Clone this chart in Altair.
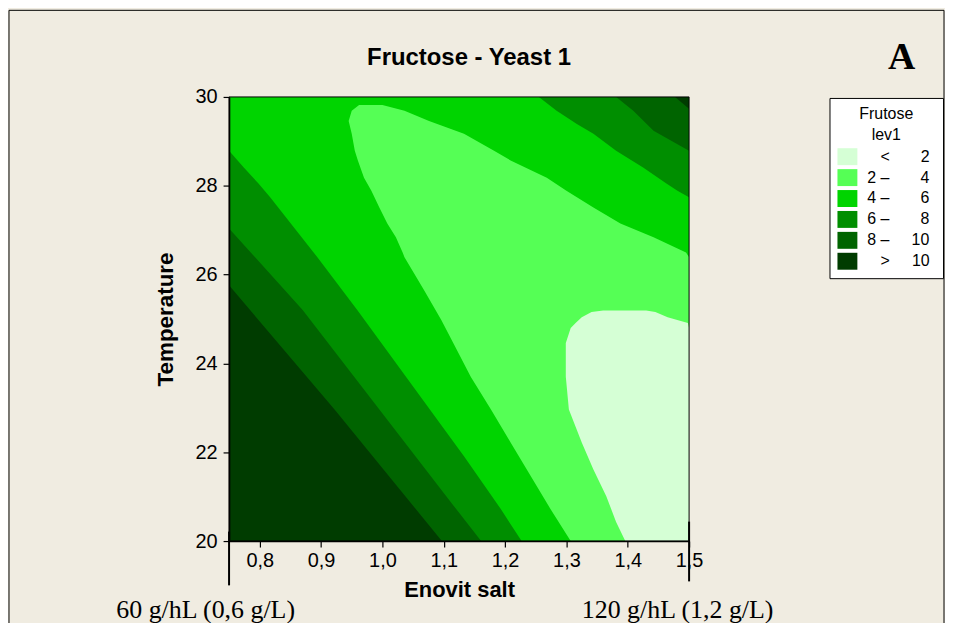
import altair as alt
import pandas as pd

NB = "\u00a0"
ZW = "\u200b"

# ---- legend levels (display labels) and colours ----
LEVEL_LABELS = [
    ZW + NB * 3 + "<" + NB * 7 + "2" + NB + ZW,
    ZW + "2" + NB + "\u2013" + NB * 7 + "4" + NB + ZW,
    ZW + "4" + NB + "\u2013" + NB * 7 + "6" + NB + ZW,
    ZW + "6" + NB + "\u2013" + NB * 7 + "8" + NB + ZW,
    ZW + "8" + NB + "\u2013" + NB * 5 + "10" + NB + ZW,
    ZW + NB * 3 + ">" + NB * 5 + "10" + NB + ZW,
]
LEVEL_COLORS = ["#d5ffd5", "#55ff55", "#00d400", "#008e00", "#006400", "#003c00"]

X_TICKS = [0.8, 0.9, 1.0, 1.1, 1.2, 1.3, 1.4, 1.5]
Y_TICKS = [20, 22, 24, 26, 28, 30]

# ---- sub-level regions: rows of (Temperature, left salt, right salt) ----
# > 10 : whole design space
R10_Y = [20.0, 30.0]
R10_XL = [0.75, 0.75]
R10_XR = [1.5, 1.5]

# fructose < 10
S10_Y = [20.0, 22.96, 25.76, 29.73, 30.0]
S10_XL = [1.097, 0.922, 0.75, 0.75, 0.75]
S10_XR = [1.5, 1.5, 1.5, 1.5, 1.477]

# fructose < 8
S8_Y = [20.0, 20.78, 25.20, 27.04, 28.79, 29.24, 29.69, 30.0]
S8_XL = [1.161, 1.117, 0.870, 0.75, 0.75, 0.75, 0.75, 0.75]
S8_XR = [1.5, 1.5, 1.5, 1.5, 1.5, 1.442, 1.409, 1.381]

# fructose < 6
S6_Y = [20.0, 20.72, 21.91, 25.20, 26.39, 27.74, 27.89, 28.05, 28.41, 28.79, 29.17, 29.39, 29.69, 30.0]
S6_XL = [1.227, 1.193, 1.133, 0.959, 0.894, 0.817, 0.808, 0.798, 0.774, 0.75, 0.75, 0.75, 0.75, 0.75]
S6_XR = [1.5, 1.5, 1.5, 1.5, 1.5, 1.5, 1.481, 1.463, 1.425, 1.381, 1.344, 1.317, 1.284, 1.255]

# fructose < 4
S4_Y = [20.0, 20.72, 21.46, 22.22, 22.96, 23.70, 24.42, 24.98, 25.65, 26.39, 26.50,
        26.84, 27.15, 27.51, 27.89, 28.18, 28.57, 28.79, 29.17, 29.46, 29.69, 29.82]
S4_XL = [1.307, 1.274, 1.242, 1.209, 1.177, 1.144, 1.117, 1.096, 1.068, 1.036, 1.033,
         1.022, 1.008, 0.995, 0.982, 0.970, 0.960, 0.955, 0.950, 0.945, 0.950, 0.962]
S4_XR = [1.5, 1.5, 1.5, 1.5, 1.5, 1.5, 1.5, 1.5, 1.5, 1.5, 1.495,
         1.442, 1.388, 1.344, 1.300, 1.268, 1.209, 1.182, 1.133, 1.076, 1.036, 1.0]

# fructose < 2
S2_Y = [20.0, 20.43, 21.01, 21.61, 22.22, 22.96, 23.70, 24.46, 24.80, 24.91, 25.04, 25.16, 25.19]
S2_XL = [1.396, 1.381, 1.365, 1.344, 1.325, 1.304, 1.299, 1.299, 1.307, 1.315, 1.325, 1.341, 1.36]
S2_XR = [1.5, 1.5, 1.5, 1.5, 1.5, 1.5, 1.5, 1.5, 1.5, 1.498, 1.465, 1.445, 1.43]

REGIONS = [
    (R10_Y, R10_XL, R10_XR, LEVEL_LABELS[5]),
    (S10_Y, S10_XL, S10_XR, LEVEL_LABELS[4]),
    (S8_Y, S8_XL, S8_XR, LEVEL_LABELS[3]),
    (S6_Y, S6_XL, S6_XR, LEVEL_LABELS[2]),
    (S4_Y, S4_XL, S4_XR, LEVEL_LABELS[1]),
    (S2_Y, S2_XL, S2_XR, LEVEL_LABELS[0]),
]

BEIGE = "#f0ece1"
SANS = "Liberation Sans"
SERIF = "Liberation Serif"

XS = alt.Scale(domain=[0.75, 1.5], nice=False, zero=False)
YS = alt.Scale(domain=[20, 30], nice=False, zero=False)

XAXIS = alt.Axis(
    title="Enovit salt", values=X_TICKS,
    labelExpr="replace(format(datum.value, '.1f'), '.', ',')",
    grid=False, domainColor="black", domainWidth=1.5, tickColor="black",
    tickSize=6, tickWidth=1.2, labelFont=SANS, labelFontSize=20, labelColor="black",
    labelPadding=4, labelFlush=False, labelOverlap=False,
    titleFont=SANS, titleFontSize=22, titleFontWeight="bold", titleColor="black",
    titlePadding=9, zindex=1,
)
YAXIS = alt.Axis(
    title="Temperature", values=Y_TICKS, grid=False, domainColor="black",
    domainWidth=1.5, tickColor="black", tickSize=6, tickWidth=1.2,
    labelFont=SANS, labelFontSize=20, labelColor="black", labelPadding=6,
    labelFlush=False, labelOverlap=False,
    titleFont=SANS, titleFontSize=22.5, titleFontWeight="bold", titleColor="black",
    titlePadding=18, zindex=1,
)
LEG = alt.Legend(
    title=["Frutose", "lev1"], orient="none", legendX=603, legendY=1,
    fillColor="white", strokeColor="black", padding=8,
    titleFont=SANS, titleFontSize=16, titleFontWeight="normal", titleColor="black",
    titleAlign="center", titleAnchor="middle", titleLineHeight=21, titlePadding=4,
    labelFont=SANS, labelFontSize=16, labelColor="black", labelOffset=10, labelLimit=300,
    symbolType="M-1,-0.85L1,-0.85L1,0.85L-1,0.85Z", symbolSize=400,
    symbolStrokeWidth=0, symbolOpacity=1, rowPadding=2, zindex=1,
)
CSCALE = alt.Scale(domain=LEVEL_LABELS, range=LEVEL_COLORS)

one = pd.DataFrame({"k": [0]})

layers = []
# outer figure border
layers.append(
    alt.Chart(one).mark_rect(filled=False, stroke="black", strokeWidth=1).encode(
        x=alt.value(-221), x2=alt.value(718), y=alt.value(-87), y2=alt.value(534)
    )
)
for ys_, xl_, xr_, lab in REGIONS:
    df = pd.DataFrame({"y": ys_, "xl": xl_, "xr": xr_, "level": [lab] * len(ys_)})
    layers.append(
        alt.Chart(df).mark_area(orient="horizontal", clip=True, interpolate="linear").encode(
            y=alt.Y("y:Q", scale=YS, axis=YAXIS),
            x=alt.X("xl:Q", scale=XS, axis=XAXIS, stack=None),
            x2="xr:Q",
            color=alt.Color("level:N", scale=CSCALE, legend=LEG),
        )
    )
# plot frame
layers.append(
    alt.Chart(one).mark_rect(filled=False, stroke="black", strokeWidth=1).encode(
        x=alt.X(datum=0.75, type="quantitative", scale=XS, axis=XAXIS),
        x2=alt.X2(datum=1.5),
        y=alt.Y(datum=20, type="quantitative", scale=YS, axis=YAXIS),
        y2=alt.Y2(datum=30),
    )
)
# markers below the axis at the two ends of the salt range
layers.append(
    alt.Chart(one).mark_rule(color="black", strokeWidth=2).encode(
        x=alt.X(datum=0.75, type="quantitative", scale=XS, axis=XAXIS),
        y=alt.value(436.5), y2=alt.value(490.5),
    )
)
layers.append(
    alt.Chart(one).mark_rule(color="black", strokeWidth=2).encode(
        x=alt.X(datum=1.5, type="quantitative", scale=XS, axis=XAXIS),
        y=alt.value(426.5), y2=alt.value(486.5),
    )
)
# texts
layers.append(
    alt.Chart(one).mark_text(text="Fructose - Yeast 1", font=SANS, fontSize=24,
                             fontWeight="bold", color="black", baseline="middle",
                             align="center").encode(x=alt.value(241), y=alt.value(-39.5))
)
layers.append(
    alt.Chart(one).mark_text(text="A", font=SERIF, fontSize=38, fontWeight="bold",
                             color="black", baseline="middle", align="center").encode(
        x=alt.value(675.5), y=alt.value(-39.5))
)
layers.append(
    alt.Chart(one).mark_text(text="60 g/hL (0,6 g/L)", font=SERIF, fontSize=26,
                             color="black", baseline="middle", align="center").encode(
        x=alt.value(-23.5), y=alt.value(515))
)
layers.append(
    alt.Chart(one).mark_text(text="120 g/hL (1,2 g/L)", font=SERIF, fontSize=26,
                             color="black", baseline="middle", align="center").encode(
        x=alt.value(450.5), y=alt.value(515))
)

chart = (
    alt.layer(*layers)
    .properties(width=462, height=446, padding=0, background=BEIGE)
    .configure_view(strokeWidth=0)
)

chart.save("out.html", embed_options={"renderer": "svg", "actions": False})
